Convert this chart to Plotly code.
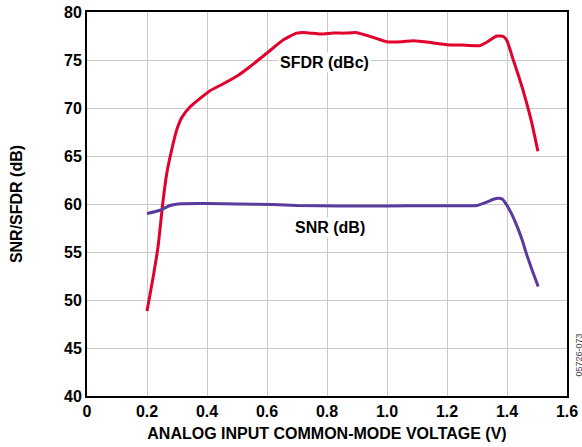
import plotly.graph_objects as go

# SFDR (dBc) vs common-mode voltage
sfdr_v = [0.200, 0.220, 0.237, 0.253, 0.266, 0.282, 0.299, 0.316, 0.343, 0.377, 0.410,
          0.453, 0.499, 0.543, 0.599, 0.655, 0.699, 0.732, 0.777, 0.821, 0.860, 0.899,
          0.950, 0.999, 1.050, 1.088, 1.150, 1.199, 1.250, 1.310, 1.340, 1.366, 1.388,
          1.400, 1.421, 1.440, 1.453, 1.470, 1.483, 1.503]
sfdr_db = [48.85, 52.3, 55.6, 60.2, 63.2, 65.6, 67.7, 69.0, 70.1, 71.0, 71.8,
           72.5, 73.3, 74.3, 75.7, 77.1, 77.8, 77.85, 77.7, 77.8, 77.8, 77.85,
           77.4, 76.9, 76.9, 77.0, 76.8, 76.6, 76.55, 76.5, 77.0, 77.5, 77.45,
           77.0, 75.0, 73.2, 71.9, 70.0, 68.4, 65.5]

# SNR (dB) vs common-mode voltage
snr_v = [0.200, 0.243, 0.277, 0.316, 0.400, 0.500, 0.620, 0.700, 0.843, 1.000,
         1.150, 1.300, 1.333, 1.355, 1.371, 1.385, 1.399, 1.415, 1.432, 1.450,
         1.466, 1.485, 1.504]
snr_db = [59.0, 59.35, 59.85, 60.03, 60.06, 60.0, 59.95, 59.85, 59.8, 59.8,
          59.82, 59.85, 60.2, 60.5, 60.6, 60.5, 59.9, 59.0, 57.8, 56.3,
          54.7, 53.0, 51.4]

x_ticks = [0, 0.2, 0.4, 0.6, 0.8, 1.0, 1.2, 1.4, 1.6]
x_labels = ["0", "0.2", "0.4", "0.6", "0.8", "1.0", "1.2", "1.4", "1.6"]
y_ticks = [40, 45, 50, 55, 60, 65, 70, 75, 80]

RED = "#e2012d"
PURPLE = "#5a3a9c"
FONT = "Liberation Sans"

fig = go.Figure()

fig.add_trace(go.Scatter(
    x=sfdr_v, y=sfdr_db, mode="lines",
    line=dict(color=RED, width=3, shape="spline", smoothing=0.5),
    showlegend=False, hoverinfo="skip"
))
fig.add_trace(go.Scatter(
    x=snr_v, y=snr_db, mode="lines",
    line=dict(color=PURPLE, width=3, shape="spline", smoothing=0.5),
    showlegend=False, hoverinfo="skip"
))

# curve labels (white box hides the grid behind the text)
fig.add_annotation(x=0.793, y=74.7, text="<b>SFDR (dBc)</b>", showarrow=False,
                   bgcolor="white", borderpad=1,
                   font=dict(family=FONT, size=16, color="black"))
fig.add_annotation(x=0.809, y=57.6, text="<b>SNR (dB)</b>", showarrow=False,
                   bgcolor="white", borderpad=1,
                   font=dict(family=FONT, size=16, color="black"))

# figure id at right edge
fig.add_annotation(x=1.0, y=0.0, xref="paper", yref="paper", xshift=11, yshift=17,
                   xanchor="center", yanchor="bottom", textangle=-90,
                   text="05726-073", showarrow=False,
                   font=dict(family=FONT, size=9, color="#444444"))

axis_common = dict(
    showgrid=True, gridcolor="#c8c8c8", gridwidth=1,
    showline=True, linecolor="black", linewidth=2, mirror=True,
    zeroline=False, ticks="",
    tickfont=dict(family=FONT, size=16, color="black"),
)

fig.update_layout(
    template="none",
    width=582, height=447,
    margin=dict(l=87, r=15, t=12, b=51),
    plot_bgcolor="white", paper_bgcolor="white",
    xaxis=dict(range=[0, 1.6], tickvals=x_ticks,
               ticktext=[f"<b>{t}</b>" for t in x_labels],
               title=dict(text="<b>ANALOG INPUT COMMON-MODE VOLTAGE (V)</b>",
                          font=dict(family=FONT, size=16, color="black"), standoff=9),
               **axis_common),
    yaxis=dict(range=[40, 80], tickvals=y_ticks,
               ticktext=[f"<b>{t}</b>" for t in y_ticks],
               title=dict(text="<b>SNR/SFDR (dB)</b>",
                          font=dict(family=FONT, size=16, color="black"), standoff=37),
               **axis_common),
)

fig.write_html("out.html", config={"displayModeBar": False})

# drop the default page margin so the figure sits at the window origin
with open("out.html", encoding="utf-8") as f:
    html = f.read()
html = html.replace("<body>", '<body style="margin:0;overflow:hidden">', 1)
with open("out.html", "w", encoding="utf-8") as f:
    f.write(html)
